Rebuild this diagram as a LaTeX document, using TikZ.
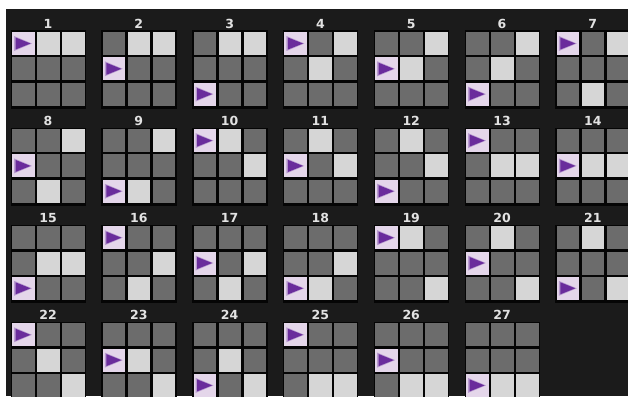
\documentclass[tikz,border=0pt]{standalone}
\usepackage{fontspec}
\newfontfamily\lblfont{DejaVu Sans}
\definecolor{bgc}{HTML}{1B1B1B}
\definecolor{gridc}{HTML}{050505}
\definecolor{darkc}{HTML}{6C6C6C}
\definecolor{lightc}{HTML}{D6D6D6}
\definecolor{tric}{HTML}{E4D6EA}
\definecolor{purpc}{HTML}{6A2C9C}
\definecolor{haloc}{HTML}{B89AD0}
\definecolor{txtc}{HTML}{E2E2E2}
\tikzset{
  lbl/.style={text=txtc,font=\lblfont\bfseries\fontsize{12.5}{12.5}\selectfont,inner sep=0pt,anchor=base},
  darkcell/.style={fill=darkc},
  lightcell/.style={fill=lightc},
  tricell/.style={fill=tric},
  purp/.style={fill=purpc},
  halo/.style={fill=haloc},
  gridback/.style={fill=gridc}
}
\newcommand\cellD[2]{\fill[darkcell] (\px+25*#1,\py+25.3*#2) rectangle ++(22.5,23);}
\newcommand\cellL[2]{\fill[lightcell] (\px+25*#1,\py+25.3*#2) rectangle ++(22.5,23);}
\newcommand\cellT[2]{%
  \fill[tricell] (\px+25*#1,\py+25.3*#2) rectangle ++(22.5,23);
  \fill[halo] (\px+25*#1+2,\py+25.3*#2+4) -- ++(18,7.5) -- ++(-18,7.5) -- cycle;
  \fill[purp] (\px+25*#1+3.5,\py+25.3*#2+5.5) -- ++(15,6) -- ++(-15,6) -- cycle;}
\def\mycells#1#2#3#4#5#6#7#8#9{%
  \csname cell#1\endcsname{0}{0}\csname cell#2\endcsname{1}{0}\csname cell#3\endcsname{2}{0}%
  \csname cell#4\endcsname{0}{1}\csname cell#5\endcsname{1}{1}\csname cell#6\endcsname{2}{1}%
  \csname cell#7\endcsname{0}{2}\csname cell#8\endcsname{1}{2}\csname cell#9\endcsname{2}{2}}
\newcommand\mypanel[4]{%
  \pgfmathsetmacro\px{12+90.8*#2}%
  \pgfmathsetmacro\py{32+97.1*#3}%
  \fill[gridback] (\px-1.5,\py-1.5) rectangle ++(75.5,78);
  \node[lbl] (n#1) at (\px+36,\py-3.5) {#1};
  \mycells#4}
\begin{document}
\begin{tikzpicture}[x=1pt,y=-1pt]
\useasboundingbox (0,0) rectangle (628,396);
\clip (0,0) rectangle (628,396);
\fill[white] (0,0) rectangle (628,396);
\fill[bgc] (6,9) rectangle (628,396);
\mypanel{1}{0}{0}{TLLDDDDDD}
\mypanel{2}{1}{0}{DLLTDDDDD}
\mypanel{3}{2}{0}{DLLDDDTDD}
\mypanel{4}{3}{0}{TDLDLDDDD}
\mypanel{5}{4}{0}{DDLTLDDDD}
\mypanel{6}{5}{0}{DDLDLDTDD}
\mypanel{7}{6}{0}{TDLDDDDLD}
\mypanel{8}{0}{1}{DDLTDDDLD}
\mypanel{9}{1}{1}{DDLDDDTLD}
\mypanel{10}{2}{1}{TLDDDLDDD}
\mypanel{11}{3}{1}{DLDTDLDDD}
\mypanel{12}{4}{1}{DLDDDLTDD}
\mypanel{13}{5}{1}{TDDDLLDDD}
\mypanel{14}{6}{1}{DDDTLLDDD}
\mypanel{15}{0}{2}{DDDDLLTDD}
\mypanel{16}{1}{2}{TDDDDLDLD}
\mypanel{17}{2}{2}{DDDTDLDLD}
\mypanel{18}{3}{2}{DDDDDLTLD}
\mypanel{19}{4}{2}{TLDDDDDDL}
\mypanel{20}{5}{2}{DLDTDDDDL}
\mypanel{21}{6}{2}{DLDDDDTDL}
\mypanel{22}{0}{3}{TDDDLDDDL}
\mypanel{23}{1}{3}{DDDTLDDDL}
\mypanel{24}{2}{3}{DDDDLDTDL}
\mypanel{25}{3}{3}{TDDDDDDLL}
\mypanel{26}{4}{3}{DDDTDDDLL}
\mypanel{27}{5}{3}{DDDDDDTLL}
\end{tikzpicture}
\end{document}
